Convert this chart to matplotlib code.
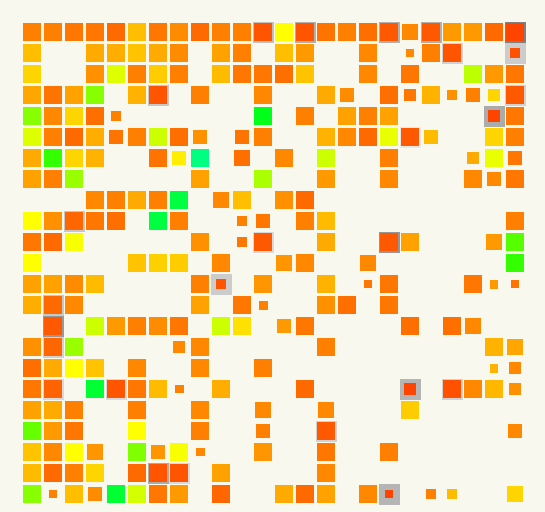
import colorsys
import matplotlib
matplotlib.use("Agg")
import matplotlib.pyplot as plt
from matplotlib.patches import Rectangle

_ = None
# hue (degrees) of each cell, None = empty; 23 rows x 24 columns
hue = [
    [30,30,28,28,25,45,28,33,25,30,30,20,60,20,27,30,26,21,32,21,36,36,25,16],
    [45,_,_,40,41,46,40,33,_,38,30,_,45,36,_,_,32,_,32,30,20,_,_,19],
    [50,_,_,34,68,30,48,30,_,44,28,28,26,46,_,_,32,_,28,_,_,76,36,28],
    [39,27,38,88,_,42,20,_,30,_,_,32,_,_,40,33,_,26,28,42,34,30,50,21],
    [88,32,50,26,30,_,_,_,_,_,_,126,_,30,_,38,30,38,_,_,_,_,16,28],
    [68,30,25,41,27,30,72,26,34,_,27,30,_,_,42,32,25,65,21,44,_,_,50,30],
    [40,108,50,42,_,_,27,56,150,_,26,_,32,_,72,_,_,30,_,_,_,40,65,28],
    [38,30,84,_,_,_,_,_,38,_,_,80,_,_,36,_,_,32,_,_,_,32,32,28],
    [_,_,_,32,30,40,30,135,_,32,45,_,34,25,_,_,_,_,_,_,_,_,_,_],
    [60,34,24,28,26,_,135,30,_,_,30,28,_,30,44,_,_,_,_,_,_,_,_,30],
    [28,25,62,_,_,_,_,_,34,_,28,21,_,_,40,_,_,21,38,_,_,_,36,100],
    [60,_,_,_,_,46,49,48,_,32,_,_,35,32,_,_,32,_,_,_,_,_,_,108],
    [38,38,33,44,_,_,_,_,30,20,_,35,_,_,42,_,28,28,_,_,_,28,36,27],
    [41,25,32,_,_,_,_,_,38,_,28,30,_,_,34,26,_,28,_,_,_,_,_,_],
    [_,21,_,72,36,30,33,28,_,72,53,_,36,28,_,_,_,_,26,_,26,32,_,_],
    [34,24,84,_,_,_,_,32,32,_,_,_,_,_,30,_,_,_,_,_,_,_,42,39],
    [26,40,60,46,_,32,_,_,32,_,_,30,_,_,_,_,_,_,_,_,_,_,42,32],
    [28,23,_,132,20,28,44,30,_,41,_,_,_,25,_,_,_,_,16,_,19,32,43,34],
    [38,40,30,_,_,30,_,_,32,_,_,32,_,_,32,_,_,_,48,_,_,_,_,_],
    [96,36,28,_,_,60,_,_,30,_,_,30,_,_,21,_,_,_,_,_,_,_,_,32],
    [46,32,60,35,_,90,35,62,32,_,_,35,_,_,28,_,_,30,_,_,_,_,_,_],
    [44,25,30,50,_,25,20,20,_,38,_,_,_,_,32,_,_,_,_,_,_,_,_,_],
    [88,30,45,33,132,70,28,36,_,24,_,_,40,25,38,_,32,16,_,30,44,_,_,50],
]

# relative magnitude of cells that are not full size (row, col) -> fraction
magnitude = {
    (0,18): 0.94, (1,18): 0.44, (1,23): 0.56,
    (3,15): 0.78, (3,18): 0.67, (3,20): 0.56, (3,21): 0.78, (3,22): 0.72,
    (4,4): 0.61, (4,22): 0.67,
    (5,4): 0.83, (5,8): 0.78, (5,10): 0.83, (5,19): 0.78,
    (6,7): 0.78, (6,10): 0.89, (6,21): 0.67, (6,23): 0.83,
    (7,22): 0.78, (8,9): 0.94,
    (9,10): 0.56, (9,11): 0.78,
    (10,10): 0.56, (10,22): 0.94,
    (11,12): 0.94, (11,16): 0.94,
    (12,9): 0.56, (12,16): 0.39, (12,22): 0.5, (12,23): 0.39,
    (13,11): 0.5,
    (14,12): 0.78, (14,21): 0.89,
    (15,7): 0.72, (15,23): 0.94,
    (16,22): 0.5, (16,23): 0.72,
    (17,7): 0.5, (17,18): 0.67, (17,23): 0.67,
    (18,11): 0.94, (18,14): 0.94,
    (19,11): 0.83, (19,23): 0.83,
    (20,3): 0.89, (20,6): 0.83, (20,8): 0.5,
    (22,1): 0.44, (22,3): 0.78, (22,17): 0.5, (22,19): 0.61, (22,20): 0.56, (22,23): 0.89,
}

# highlighted cells (row, col) -> gray level of the backing square
highlight = {
    (0,11): 0.75, (0,13): 0.69, (0,17): 0.69, (0,19): 0.69, (0,23): 0.50,
    (1,20): 0.82, (1,23): 0.80,
    (3,6): 0.78, (3,23): 0.82,
    (4,22): 0.67,
    (5,18): 0.91,
    (9,2): 0.78,
    (10,11): 0.85, (10,17): 0.59,
    (12,9): 0.80,
    (13,1): 0.78, (14,1): 0.60, (15,1): 0.82,
    (17,1): 0.85, (17,4): 0.85, (17,18): 0.71, (17,20): 0.82,
    (19,14): 0.82,
    (21,6): 0.67, (21,7): 0.85,
    (22,17): 0.71,
}

BG = "#f9f8ef"
n_rows = len(hue)
n_cols = len(hue[0])

fig = plt.figure(figsize=(5.45, 5.12), dpi=100, facecolor=BG)
ax = fig.add_axes([21.5 / 545, 7.5 / 512, 504 / 545, 483 / 512])
ax.set_facecolor(BG)
ax.set_xlim(-0.5, n_cols - 0.5)
ax.set_ylim(n_rows - 0.5, -0.5)
ax.axis("off")

FULL = 18 / 21.0
for (r, c), g in highlight.items():
    ax.add_patch(Rectangle((c - 0.5, r - 0.5), 1.0, 1.0,
                           facecolor=str(g), edgecolor="none", antialiased=False))

for r, row in enumerate(hue):
    for c, h in enumerate(row):
        if h is None:
            continue
        s = FULL * magnitude.get((r, c), 1.0)
        col = colorsys.hsv_to_rgb(h / 360.0, 1.0, 1.0)
        ax.add_patch(Rectangle((c - s / 2, r - s / 2), s, s,
                               facecolor=col, edgecolor="none", antialiased=False))

fig.savefig("out.png", dpi=100, facecolor=BG)
